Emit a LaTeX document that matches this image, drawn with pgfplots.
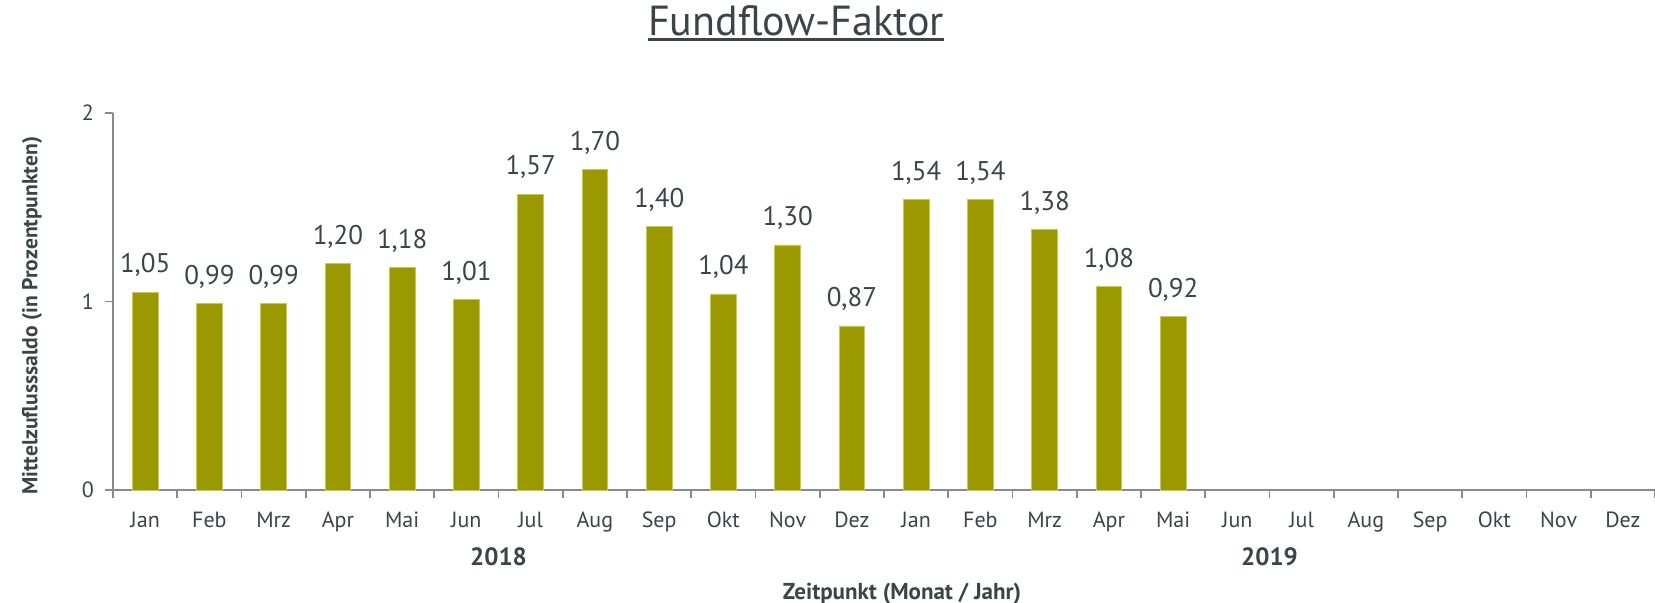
\documentclass[border=0pt]{standalone}
\usepackage{pgfplots}
\pgfplotsset{compat=1.18}
\usepackage{fontspec}
\setmainfont{PT Sans}
\definecolor{txt}{HTML}{3B4449}
\definecolor{axc}{HTML}{8A8A8A}
\definecolor{barc}{HTML}{9A9A00}
\definecolor{bare}{HTML}{C9C95A}
\pgfplotsset{/pgf/number format/assume math mode=true}
\begin{document}
\begin{tikzpicture}
\path[use as bounding box] (0,0) rectangle (827.5pt,301.5pt);
\begin{axis}[
  at={(56.5pt,56.5pt)}, anchor=south west,
  scale only axis, width=771pt, height=188.5pt,
  xmin=-0.5, xmax=23.5, ymin=0, ymax=2,
  axis x line*=bottom, axis y line*=left,
  axis line style={axc, line width=0.9pt, -},
  xtick={-0.5,0.5,...,23.5},
  x tick label as interval,
  xticklabels={Jan,Feb,Mrz,Apr,Mai,Jun,Jul,Aug,Sep,Okt,Nov,Dez,Jan,Feb,Mrz,Apr,Mai,Jun,Jul,Aug,Sep,Okt,Nov,Dez},
  ytick={0,1,2},
  tick align=outside,
  major tick length=4pt,
  tick style={axc, line width=0.9pt},
  ticklabel style={font=\fontsize{11}{13}\selectfont, text=txt},
  xticklabel style={yshift=-3.5pt},
  yticklabel style={xshift=-2pt},
  ybar, bar width=12.85pt,
  nodes near coords={\pgfmathprintnumber[fixed,fixed zerofill,precision=2,use comma]{\pgfplotspointmeta}},
  every node near coord/.append style={font=\fontsize{13.5}{15}\selectfont, text=txt, yshift=4pt},
  clip=false,
  ylabel={Mittelzuflusssaldo (in Prozentpunkten)},
  ylabel style={at={(axis description cs:-0.0525,0.462)}, anchor=center, font=\bfseries\fontsize{10.8}{12}\selectfont, text=txt},
  xlabel={Zeitpunkt (Monat / Jahr)},
  xlabel style={at={(axis description cs:0.5117,-0.276)}, anchor=center, font=\bfseries\fontsize{11.5}{13}\selectfont, text=txt},
  title={\setbox0\hbox{Fundflow-Faktor}\rlap{\raisebox{-2.9pt}{\color{txt}\rule{\wd0}{1.6pt}}}\box0},
  title style={at={(axis description cs:0.443,1.207)}, anchor=center, font=\fontsize{21}{25}\selectfont, text=txt},
]
\addplot[fill=barc, draw=bare, line width=0.4pt] coordinates {
(0,1.05) (1,0.99) (2,0.99) (3,1.20) (4,1.18) (5,1.01) (6,1.57) (7,1.70) (8,1.40) (9,1.04) (10,1.30) (11,0.87)
(12,1.54) (13,1.54) (14,1.38) (15,1.08) (16,0.92)
};
\node[font=\bfseries\fontsize{12.5}{14}\selectfont, text=txt] at (axis cs:5.5,0) [yshift=-33.5pt] {2018};
\node[font=\bfseries\fontsize{12.5}{14}\selectfont, text=txt] at (axis cs:17.5,0) [yshift=-33.5pt] {2019};
\end{axis}
\end{tikzpicture}
\end{document}
